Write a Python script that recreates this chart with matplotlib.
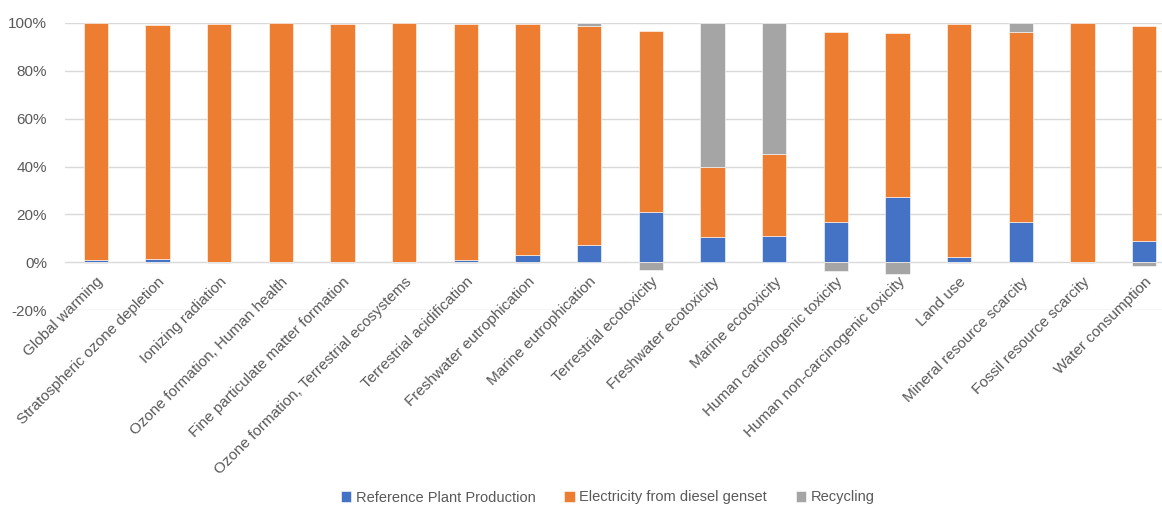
import numpy as np
import matplotlib.pyplot as plt
from matplotlib.ticker import PercentFormatter

plt.rcParams['font.family'] = ['Liberation Sans', 'DejaVu Sans']
plt.rcParams['axes.unicode_minus'] = False

categories = ["Global warming", "Stratospheric ozone depletion", "Ionizing radiation",
              "Ozone formation, Human health", "Fine particulate matter formation",
              "Ozone formation, Terrestrial ecosystems", "Terrestrial acidification",
              "Freshwater eutrophication", "Marine eutrophication", "Terrestrial ecotoxicity",
              "Freshwater ecotoxicity", "Marine ecotoxicity", "Human carcinogenic toxicity",
              "Human non-carcinogenic toxicity", "Land use", "Mineral resource scarcity",
              "Fossil resource scarcity", "Water consumption"]

reference = [0.7, 1.4, 0.1, 0.1, 0.1, 0.1, 0.8, 2.8, 7.0, 20.8, 10.5, 11.0, 16.6, 27.3, 2.2, 16.6, 0.1, 8.9]
electricity = [99.3, 97.8, 99.6, 99.9, 99.6, 99.9, 98.9, 96.9, 91.9, 76.0, 29.1, 34.2, 79.6, 68.4, 97.5, 79.6, 99.9, 90.0]
recycling = [-0.5, -0.5, -0.4, -0.3, -0.4, -0.3, -0.5, -0.5, 1.1, -3.2, 60.4, 54.8, -3.6, -4.9, -0.4, 3.8, -0.4, -1.8]

blue, orange, grey = "#4472C4", "#ED7D31", "#A5A5A5"

ref = np.array(reference)
ele = np.array(electricity)
rec = np.array(recycling)
x = np.arange(len(categories))
w = 0.39

fig = plt.figure(figsize=(11.62, 5.05), dpi=100)
ax = fig.add_axes([65 / 1162, 1 - 310 / 505, 1110 / 1162, 287 / 505])

ax.bar(x, ref, w, color=blue, edgecolor="white", linewidth=0.4, label="Reference Plant Production", zorder=3)
ax.bar(x, ele, w, bottom=ref, color=orange, edgecolor="white", linewidth=0.4,
       label="Electricity from diesel genset", zorder=3)
rec_bottom = np.where(rec > 0, ref + ele, 0)
ax.bar(x, rec, w, bottom=rec_bottom, color=grey, edgecolor="white", linewidth=0.4,
       label="Recycling", zorder=3)

ax.set_ylim(-20, 100)
ax.set_yticks(np.arange(-20, 101, 20))
ax.yaxis.set_major_formatter(PercentFormatter(decimals=0))
ax.set_xlim(-0.5, len(categories) - 0.5)
ax.grid(axis="y", color="#d9d9d9", linewidth=1, zorder=0)
for s in ax.spines.values():
    s.set_visible(False)
# category labels sit at the zero line, like Excel
ax.spines["bottom"].set_position(("data", 0))
ax.tick_params(length=0, labelsize=11, colors="#595959")
ax.tick_params(axis="x", pad=9)
ax.tick_params(axis="y", pad=13)
ax.set_xticks(x)
ax.set_xticklabels(categories, rotation=45, ha="right", rotation_mode="anchor")

fig.legend(loc="lower center", bbox_to_anchor=(0.523, -0.025), ncol=3, frameon=False,
           fontsize=10.5, handlelength=0.7, handleheight=0.7, columnspacing=2.0,
           handletextpad=0.3, labelcolor="#595959")

fig.savefig("out.png", dpi=100)
